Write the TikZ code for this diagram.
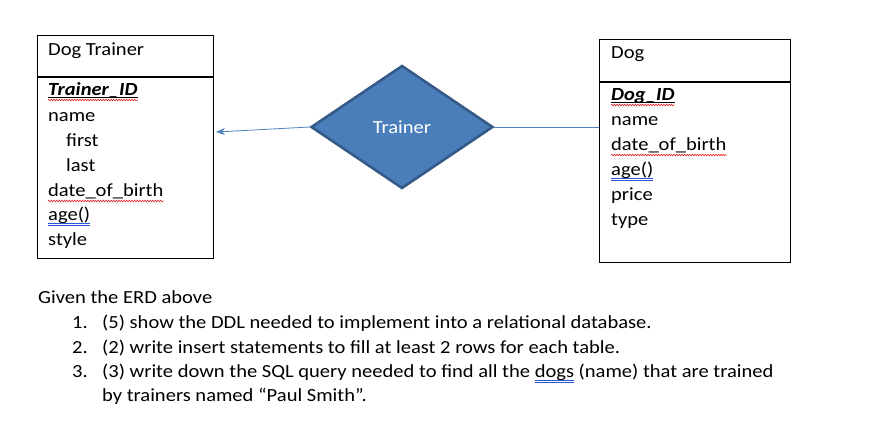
\documentclass[tikz,border=0pt]{standalone}
\usepackage{fontspec}
\setmainfont{Carlito}[FakeStretch=1.11]
\usetikzlibrary{positioning,
	shapes.geometric,
	arrows.meta,
	decorations.pathmorphing}
\definecolor{relfill}{HTML}{4A7EBB}
\definecolor{reldraw}{HTML}{365A87}
\definecolor{linkblue}{HTML}{4F81BD}
\definecolor{spellred}{HTML}{E02424}
\definecolor{grammarblue}{HTML}{2A55D4}
\newcommand{\grammarmark}[1]{\setbox0\hbox{#1}%
	\rlap{\color{grammarblue}\rule[-3.2pt]{\wd0}{0.6pt}}%
	\rlap{\color{grammarblue}\rule[-5.2pt]{\wd0}{0.6pt}}\box0\relax}
\tikzstyle{entity}=[draw, line width=1.1pt, anchor=north west, inner sep=0]
\tikzstyle{attr}=[anchor=base west, inner sep=0, font=\fontsize{18.5}{22}\selectfont]
\tikzstyle{relation}=[diamond, draw=reldraw, fill=relfill, line width=2.6pt,
	minimum width=182pt, minimum height=123pt, inner sep=0, text=white,
	font=\fontsize{18.5}{22}\selectfont]
\tikzstyle{link}=[draw=linkblue, line width=0.8pt]
\tikzstyle{spell}=[spellred, line width=0.6pt, decorate,
	decoration={snake, amplitude=0.8pt, segment length=2.6pt}]
\tikzstyle{keyline}=[line width=0.9pt]

\begin{document}
\begin{tikzpicture}[x=1pt,y=-1pt]
	\useasboundingbox[fill=white] (0,0) rectangle (872,424);
	% Dog Trainer entity
	\node[entity, minimum width=176pt, minimum height=223pt] (trainerbox) at (37,35) {};
	\draw[line width=1.1pt] ([yshift=-42pt]trainerbox.north west) -- ([yshift=-42pt]trainerbox.north east);
	\node[attr] (trainertitle) at (48,55) {Dog Trainer};
	\node[attr] (trainerid) at (48,95) {\textbf{\textit{Trainer\_ID}}};
	\node[attr] (trainername) at (48,121) {name};
	\node[attr] (trainerfirst) at (66,146) {first};
	\node[attr] (trainerlast) at (66,171) {last};
	\node[attr] (trainerdob) at (48,196) {date\_of\_birth};
	\node[attr] (trainerage) at (48,220) {\grammarmark{age()}};
	\node[attr] (trainerstyle) at (48,245) {style};
	\draw[keyline] ([yshift=-2.5pt]trainerid.base west) -- ([yshift=-2.5pt]trainerid.base east);
	\draw[spell] ([yshift=-5pt]trainerid.base west) -- ([yshift=-5pt]trainerid.base east);
	\draw[spell] ([yshift=-5pt]trainerdob.base west) -- ([yshift=-5pt]trainerdob.base east);

	% Dog entity
	\node[entity, minimum width=191pt, minimum height=223pt] (dogbox) at (599,39) {};
	\draw[line width=1.1pt] ([yshift=-43pt]dogbox.north west) -- ([yshift=-43pt]dogbox.north east);
	\node[attr] (dogtitle) at (611,58) {Dog};
	\node[attr] (dogid) at (611,100) {\textbf{\textit{Dog\_ID}}};
	\node[attr] (dogname) at (611,125) {name};
	\node[attr] (dogdob) at (611,150) {date\_of\_birth};
	\node[attr] (dogage) at (611,175) {\grammarmark{age()}};
	\node[attr] (dogprice) at (611,200) {price};
	\node[attr] (dogtype) at (611,225) {type};
	\draw[keyline] ([yshift=-2.5pt]dogid.base west) -- ([yshift=-2.5pt]dogid.base east);
	\draw[spell] ([yshift=-5pt]dogid.base west) -- ([yshift=-5pt]dogid.base east);
	\draw[spell] ([yshift=-5pt]dogdob.base west) -- ([yshift=-5pt]dogdob.base east);

	% relationship
	\node[relation] (trainerrel) at (402,127) {Trainer};
	\coordinate (arrowtip) at (216,132);
	\draw[link, -{Stealth[length=9pt,width=7pt]}] (trainerrel.west) -- (arrowtip);
	\draw[link] (trainerrel.east) -- (trainerrel.east -| dogbox.west);

	% questions
	\node[attr] (question) at (38,303) {Given the ERD above};
	\node[attr] (num1) at (72,328) {1.};
	\node[attr] (item1) at (102,328) {(5) show the DDL needed to implement into a relational database.};
	\node[attr] (num2) at (72,353) {2.};
	\node[attr] (item2) at (102,353) {(2) write insert statements to fill at least 2 rows for each table.};
	\node[attr] (num3) at (72,377) {3.};
	\node[attr] (item3) at (102,377) {(3) write down the SQL query needed to find all the \grammarmark{dogs} (name) that are trained};
	\node[attr] (item3b) at (102,401) {by trainers named “Paul Smith”.};
\end{tikzpicture}
\end{document}
